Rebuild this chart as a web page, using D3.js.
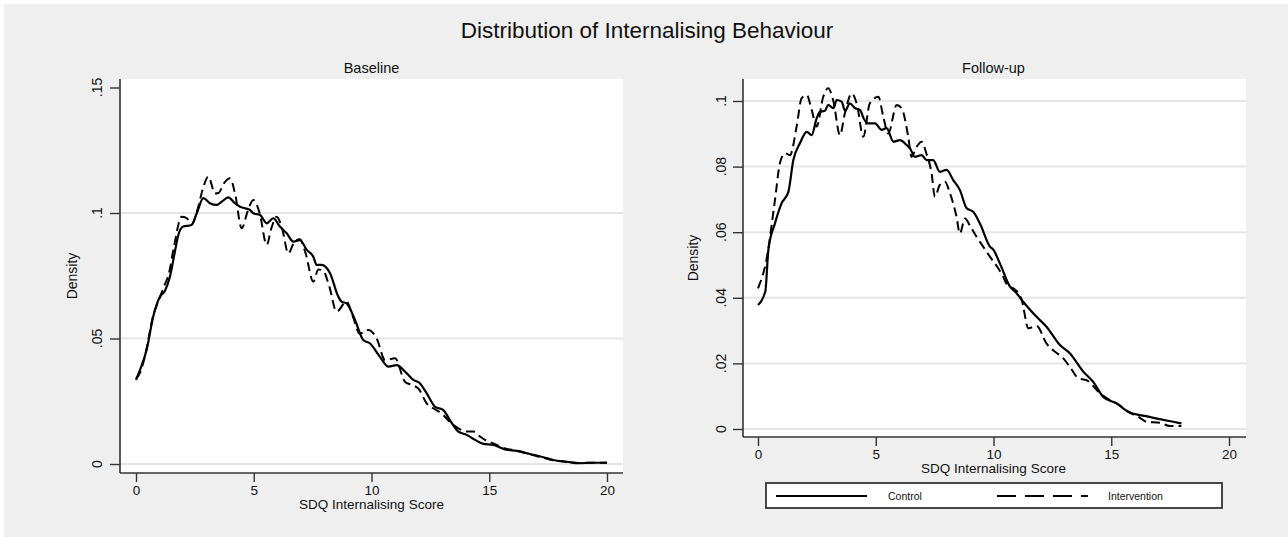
<!DOCTYPE html>
<html>
<head>
<meta charset="utf-8">
<script src="https://cdn.jsdelivr.net/npm/d3@7"></script>
<style>
    body { margin: 0; background: #ffffff; }
    svg { display: block; font-family: "Liberation Sans", Arial, sans-serif; }
    .grid line { stroke: #e6e6e6; stroke-width: 2; }
    .tick line { stroke: #333; stroke-width: 1.4; }
</style>
</head>
<body>
<svg id="canvas" width="1288" height="537"></svg>
<script>
        // values
        const chartTitle = "Distribution of Internalising Behaviour";
        const panelTitles = ["Baseline", "Follow-up"];
        const xTitle = "SDQ Internalising Score";
        const yTitle = "Density";
        const seriesNames = ["Control", "Intervention"];
        const xTicks = [0, 5, 10, 15, 20];
        const baseYTicks = [0, 0.05, 0.1, 0.15];
        const baseYLabels = ["0", ".05", ".1", ".15"];
        const followYTicks = [0, 0.02, 0.04, 0.06, 0.08, 0.1];
        const followYLabels = ["0", ".02", ".04", ".06", ".08", ".1"];

        const baseControl = [
            [0, 0.0335], [0.17, 0.0375], [0.45, 0.0454], [0.73, 0.0587], [1.02, 0.0667], [1.23, 0.069],
            [1.44, 0.0746], [1.66, 0.085], [1.78, 0.0906], [2.0, 0.0946], [2.36, 0.0952], [2.58, 0.0999],
            [2.86, 0.1059], [3.14, 0.1039], [3.43, 0.1032], [3.64, 0.1045], [3.92, 0.1062], [4.2, 0.1039],
            [4.42, 0.1025], [4.63, 0.1019], [4.84, 0.1012], [4.98, 0.0999], [5.27, 0.0992], [5.55, 0.0959],
            [5.83, 0.0979], [6.11, 0.0946], [6.4, 0.0919], [6.68, 0.0886], [6.96, 0.0892], [7.25, 0.0853],
            [7.53, 0.0826], [7.67, 0.0793], [7.88, 0.0793], [8.24, 0.076], [8.59, 0.0667], [8.73, 0.0647],
            [8.94, 0.064], [9.3, 0.0574], [9.65, 0.0494], [9.94, 0.048], [10.36, 0.0427], [10.72, 0.0388],
            [11.07, 0.0394], [11.5, 0.0361], [11.78, 0.0335], [12.06, 0.0321], [12.34, 0.0282], [12.7, 0.0228],
            [13.05, 0.0215], [13.33, 0.0175], [13.69, 0.0129], [14.04, 0.0116], [14.4, 0.0096], [14.75, 0.008],
            [15.17, 0.0076], [15.67, 0.0058], [16.17, 0.0052], [16.73, 0.004], [17.3, 0.0027], [17.72, 0.0016],
            [18.3, 0.0009], [18.8, 0.0003], [19.3, 0.0005], [20, 0.0005]
        ];
        const baseIntervention = [
            [0, 0.034], [0.2, 0.037], [0.45, 0.046], [0.7, 0.058], [1.0, 0.066], [1.2, 0.071],
            [1.4, 0.076], [1.6, 0.086], [1.94, 0.0985], [2.15, 0.098], [2.36, 0.0955], [2.6, 0.101],
            [2.85, 0.11], [3.07, 0.1145], [3.36, 0.1078], [3.5, 0.108], [3.75, 0.112], [3.99, 0.1138],
            [4.2, 0.108], [4.49, 0.0939], [4.75, 0.101], [4.98, 0.1052], [5.25, 0.1], [5.55, 0.0873],
            [5.75, 0.094], [5.97, 0.0985], [6.2, 0.094], [6.47, 0.0839], [6.7, 0.088], [6.95, 0.0895],
            [7.2, 0.084], [7.53, 0.0726], [7.74, 0.0775], [7.95, 0.077], [8.2, 0.071], [8.52, 0.0607],
            [8.94, 0.0647], [9.2, 0.059], [9.5, 0.052], [9.87, 0.0534], [10.22, 0.05], [10.58, 0.0414],
            [11.0, 0.0421], [11.42, 0.0328], [11.7, 0.0315], [12.0, 0.03], [12.34, 0.0242], [12.6, 0.0223],
            [13.0, 0.02], [13.3, 0.017], [13.69, 0.0142], [14.0, 0.013], [14.33, 0.0129], [14.6, 0.011],
            [14.82, 0.0096], [15.17, 0.0082], [15.67, 0.0062], [16.17, 0.0053], [16.73, 0.0038], [17.3, 0.0025],
            [17.72, 0.0015], [18.3, 0.0008], [18.8, 0.0004], [19.3, 0.0005], [20, 0.0005]
        ];
        const followControl = [
            [0, 0.0378], [0.31, 0.0419], [0.44, 0.0546], [0.72, 0.0627], [1.0, 0.0688], [1.29, 0.0723],
            [1.5, 0.082], [1.78, 0.0871], [2.07, 0.0906], [2.28, 0.0896], [2.49, 0.0947], [2.63, 0.0967],
            [2.84, 0.097], [2.98, 0.0988], [3.2, 0.0978], [3.34, 0.1003], [3.55, 0.0998], [3.7, 0.097],
            [3.9, 0.0993], [4.12, 0.0978], [4.33, 0.0973], [4.5, 0.0945], [4.68, 0.0932], [4.97, 0.0932],
            [5.25, 0.0912], [5.46, 0.0917], [5.75, 0.0876], [6.03, 0.0881], [6.31, 0.0866], [6.45, 0.0856],
            [6.66, 0.083], [6.95, 0.0835], [7.16, 0.082], [7.44, 0.082], [7.72, 0.0784], [8.01, 0.079],
            [8.29, 0.0759], [8.57, 0.0729], [8.86, 0.0673], [9.14, 0.0662], [9.42, 0.0627], [9.85, 0.0556],
            [10.0, 0.0546], [10.27, 0.0505], [10.7, 0.0434], [10.98, 0.0414], [11.26, 0.0388], [11.83, 0.0342],
            [12.25, 0.0312], [12.82, 0.0256], [13.24, 0.0231], [13.81, 0.0175], [14.23, 0.0144], [14.66, 0.0098],
            [15.22, 0.0078], [15.79, 0.005], [16.35, 0.0041], [17.06, 0.003], [17.63, 0.0022], [17.98, 0.0017]
        ];
        const followIntervention = [
            [0, 0.0429], [0.37, 0.052], [0.72, 0.0698], [0.93, 0.081], [1.15, 0.0841], [1.36, 0.0835],
            [1.64, 0.0922], [1.85, 0.1008], [2.07, 0.1018], [2.28, 0.0973], [2.49, 0.0922], [2.77, 0.1013],
            [2.98, 0.1039], [3.2, 0.1], [3.48, 0.0896], [3.69, 0.0963], [3.98, 0.1023], [4.2, 0.099],
            [4.47, 0.0891], [4.75, 0.0993], [5.11, 0.1013], [5.32, 0.0952], [5.53, 0.0901], [5.89, 0.0988],
            [6.1, 0.0978], [6.38, 0.0891], [6.52, 0.083], [6.74, 0.0861], [6.95, 0.0876], [7.15, 0.084],
            [7.37, 0.078], [7.51, 0.0708], [7.72, 0.0744], [7.94, 0.0754], [8.15, 0.0719], [8.43, 0.0647],
            [8.57, 0.0596], [8.79, 0.0642], [9.0, 0.062], [9.28, 0.0586], [9.56, 0.0556], [9.9, 0.052],
            [10.2, 0.049], [10.41, 0.0464], [10.63, 0.0434], [10.84, 0.0429], [11.2, 0.0393], [11.48, 0.0307],
            [11.83, 0.0314], [12.25, 0.0261], [12.6, 0.0236], [12.9, 0.022], [13.24, 0.019], [13.6, 0.0155],
            [13.95, 0.0149], [14.52, 0.0109], [14.94, 0.0088], [15.3, 0.0075], [15.79, 0.005], [16.2, 0.0035],
            [16.5, 0.0022], [17.06, 0.0019], [17.49, 0.0009], [17.98, 0.0009]
        ];

        const svg = d3.select("#canvas");

        // grey page with a thin white margin at top/left
        svg.append("rect").attr("x", 4).attr("y", 4).attr("width", 1284).attr("height", 533).attr("fill", "#efefef");

        svg.append("text")
            .attr("x", 647).attr("y", 38)
            .attr("text-anchor", "middle")
            .attr("font-size", 22.5)
            .attr("fill", "#111")
            .text(chartTitle);

        const panels = [
            {
                title: panelTitles[0], left: 120, right: 623, top: 79, bottom: 473,
                xRange: [136, 607], yDomain: [0, 0.15], yRange: [464, 87.5],
                yTicks: baseYTicks, yLabels: baseYLabels, grid: [0, 0.05, 0.1],
                yLabelX: 102, yTitleX: 77, xTitleY: 509,
                series: [baseControl, baseIntervention]
            },
            {
                title: panelTitles[1], left: 743, right: 1246, top: 79, bottom: 437,
                xRange: [758, 1229], yDomain: [0, 0.1], yRange: [429, 101],
                yTicks: followYTicks, yLabels: followYLabels, grid: followYTicks,
                yLabelX: 726, yTitleX: 698, xTitleY: 473,
                series: [followControl, followIntervention]
            }
        ];

        function drawPanel(p) {
            const x = d3.scaleLinear().domain([0, 20]).range(p.xRange);
            const y = d3.scaleLinear().domain(p.yDomain).range(p.yRange);
            const g = svg.append("g");

            g.append("rect")
                .attr("x", p.left).attr("y", p.top)
                .attr("width", p.right - p.left).attr("height", p.bottom - p.top)
                .attr("fill", "#ffffff");

            const grid = g.append("g").attr("class", "grid");
            p.grid.forEach(v => {
                grid.append("line")
                    .attr("x1", p.left).attr("x2", p.right)
                    .attr("y1", y(v)).attr("y2", y(v));
            });

            // curves
            const line = d3.line().x(d => x(d[0])).y(d => y(d[1])).curve(d3.curveMonotoneX);
            g.append("path")
                .datum(p.series[0])
                .attr("fill", "none").attr("stroke", "#000").attr("stroke-width", 2.2)
                .attr("d", line);
            g.append("path")
                .datum(p.series[1])
                .attr("fill", "none").attr("stroke", "#000").attr("stroke-width", 2)
                .attr("stroke-dasharray", "9,5")
                .attr("d", line);

            // x axis
            const xAxis = g.append("g")
                .attr("transform", `translate(0,${p.bottom})`)
                .call(d3.axisBottom(x).tickValues(xTicks).tickSize(9).tickPadding(3));
            xAxis.select(".domain").remove();
            xAxis.selectAll("text").attr("font-size", 13.5).attr("fill", "#111").attr("font-family", null);

            // y axis ticks, labels rotated like Stata
            const yAxis = g.append("g")
                .attr("transform", `translate(${p.left},0)`)
                .call(d3.axisLeft(y).tickValues(p.yTicks).tickSize(10).tickFormat(""));
            yAxis.select(".domain").remove();
            p.yTicks.forEach((v, i) => {
                g.append("text")
                    .attr("transform", `translate(${p.yLabelX},${y(v)}) rotate(-90)`)
                    .attr("text-anchor", "middle")
                    .attr("font-size", 14).attr("fill", "#111")
                    .text(p.yLabels[i]);
            });

            // axis lines
            g.append("line")
                .attr("x1", p.left).attr("x2", p.left).attr("y1", p.top).attr("y2", p.bottom)
                .attr("stroke", "#333").attr("stroke-width", 1.6);
            g.append("line")
                .attr("x1", p.left).attr("x2", p.right).attr("y1", p.bottom).attr("y2", p.bottom)
                .attr("stroke", "#333").attr("stroke-width", 1.6);

            // titles
            const midX = x(10);
            g.append("text")
                .attr("x", midX).attr("y", 73)
                .attr("text-anchor", "middle").attr("font-size", 14.5).attr("fill", "#111")
                .text(p.title);
            g.append("text")
                .attr("x", midX).attr("y", p.xTitleY)
                .attr("text-anchor", "middle").attr("font-size", 13.5).attr("fill", "#111")
                .text(xTitle);
            g.append("text")
                .attr("transform", `translate(${p.yTitleX},${(p.top + p.bottom) / 2}) rotate(-90)`)
                .attr("text-anchor", "middle").attr("font-size", 14).attr("fill", "#111")
                .text(yTitle);
        }

        panels.forEach(drawPanel);

        // legend under the right panel
        const legend = svg.append("g");
        legend.append("rect")
            .attr("x", 766).attr("y", 483).attr("width", 456).attr("height", 25)
            .attr("fill", "#fff").attr("stroke", "#333").attr("stroke-width", 1.8);
        legend.append("line")
            .attr("x1", 776).attr("x2", 867).attr("y1", 496).attr("y2", 496)
            .attr("stroke", "#000").attr("stroke-width", 2);
        legend.append("text")
            .attr("x", 888).attr("y", 500).attr("font-size", 10.5).attr("fill", "#111")
            .text(seriesNames[0]);
        legend.append("line")
            .attr("x1", 997).attr("x2", 1088).attr("y1", 496).attr("y2", 496)
            .attr("stroke", "#000").attr("stroke-width", 2).attr("stroke-dasharray", "19,9");
        legend.append("text")
            .attr("x", 1108).attr("y", 500).attr("font-size", 10.5).attr("fill", "#111")
            .text(seriesNames[1]);
</script>
</body>
</html>
